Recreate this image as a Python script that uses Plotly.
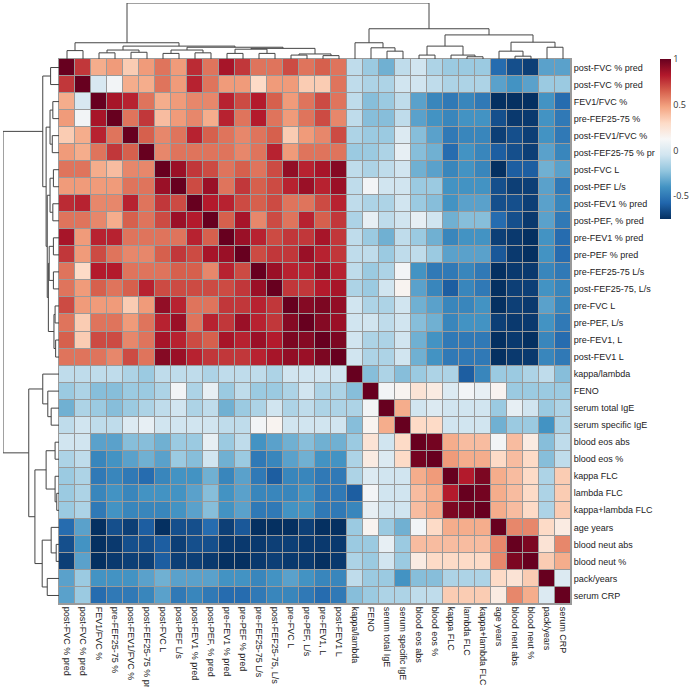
import plotly.graph_objects as go

# Variable names (same order for rows and columns, as clustered)
labels = ["post-FVC % pred", "post-FVC % pred", "FEV1/FVC %", "pre-FEF25-75 %",
          "post-FEV1/FVC %", "post-FEF25-75 % pr", "post-FVC L", "post-PEF L/s",
          "post-FEV1 % pred", "post-PEF, % pred", "pre-FEV1 % pred", "pre-PEF % pred",
          "pre-FEF25-75 L/s", "post-FEF25-75, L/s", "pre-FVC L", "pre-PEF, L/s",
          "pre-FEV1, L", "post-FEV1 L", "kappa/lambda", "FENO", "serum total IgE",
          "serum specific IgE", "blood eos abs", "blood eos %", "kappa FLC",
          "lambda FLC", "kappa+lambda FLC", "age years", "blood neut abs",
          "blood neut %", "pack/years", "serum CRP"]

# Correlation matrix
corr = [
    [1, .75, .45, .5, .35, .5, .6, .5, .78, .6, .85, .75, .6, .6, .7, .6, .65, .6,
     -.1, -.2, -.3, -.1, -.05, -.15, -.2, -.2, -.2, -.55, -.65, -.7, -.35, -.35],
    [.75, 1, -.02, .1, .45, .45, .6, .5, .8, .6, .5, .5, .3, .5, .5, .35, .35, .6,
     -.1, -.15, -.15, -.05, -.05, -.1, -.15, -.15, -.15, -.35, -.4, -.35, -.2, -.2],
    [.45, -.02, 1, .85, .8, .6, .45, .5, .55, .55, .8, .7, .82, .65, .5, .6, .7, .6,
     -.1, -.25, -.2, -.1, -.35, -.45, -.5, -.45, -.5, -.75, -.75, -.75, -.4, -.55],
    [.5, .1, .85, 1, .6, .75, .4, .5, .55, .45, .8, .6, .82, .6, .5, .6, .7, .55,
     -.1, -.25, -.25, -.1, -.35, -.4, -.45, -.4, -.4, -.65, -.72, -.72, -.4, -.5],
    [.35, .45, .8, .6, 1, .65, .55, .6, .8, .65, .6, .55, .6, .65, .35, .5, .55, .7,
     -.15, -.2, -.2, 0, -.25, -.35, -.5, -.45, -.45, -.7, -.65, -.7, -.4, -.5],
    [.5, .45, .6, .75, .65, 1, .55, .6, .6, .6, .6, .55, .6, .8, .5, .6, .6, .6,
     -.2, -.2, -.15, .05, -.25, -.3, -.55, -.4, -.45, -.6, -.65, -.7, -.35, -.45],
    [.6, .6, .45, .4, .55, .55, 1, .88, .75, .7, .6, .65, .6, .7, .9, .8, .85, .93,
     -.1, -.15, -.1, -.05, -.3, -.35, -.45, -.4, -.45, -.75, -.6, -.6, -.3, -.35],
    [.5, .5, .5, .5, .6, .6, .88, 1, .7, .88, .6, .75, .65, .7, .8, .88, .8, .88,
     -.1, .1, -.05, -.05, -.2, -.2, -.4, -.4, -.4, -.65, -.7, -.7, -.35, -.5],
    [.78, .8, .55, .55, .8, .6, .75, .7, 1, .82, .8, .7, .65, .7, .6, .6, .7, .8,
     -.1, -.15, -.15, -.05, -.2, -.25, -.4, -.35, -.35, -.65, -.65, -.7, -.35, -.45],
    [.6, .6, .55, .45, .65, .6, .7, .88, .82, 1, .65, .85, .55, .7, .6, .8, .65, .75,
     -.15, .05, -.1, -.05, .05, -.05, -.3, -.25, -.25, -.55, -.65, -.72, -.35, -.5],
    [.85, .5, .8, .8, .6, .6, .6, .6, .8, .65, 1, .88, .8, .7, .75, .75, .85, .75,
     -.1, -.2, -.3, -.1, -.2, -.3, -.45, -.4, -.4, -.7, -.72, -.75, -.4, -.55],
    [.75, .5, .7, .6, .55, .55, .65, .75, .7, .85, .88, 1, .7, .75, .75, .88, .8, .75,
     -.1, -.1, -.2, -.1, -.1, -.2, -.35, -.35, -.35, -.62, -.72, -.75, -.4, -.55],
    [.6, .3, .82, .82, .6, .6, .6, .65, .65, .55, .8, .7, 1, .88, .8, .8, .88, .8,
     -.1, -.2, -.15, .1, -.4, -.5, -.5, -.45, -.5, -.75, -.72, -.72, -.45, -.5],
    [.6, .5, .65, .6, .65, .8, .7, .7, .7, .7, .7, .75, .88, 1, .75, .75, .82, .85,
     -.15, -.2, -.05, .15, -.35, -.45, -.6, -.45, -.5, -.75, -.7, -.7, -.4, -.45],
    [.7, .5, .5, .5, .35, .5, .9, .8, .6, .6, .75, .75, .8, .75, 1, .93, .95, .9,
     -.05, -.15, -.15, -.05, -.3, -.35, -.45, -.45, -.4, -.75, -.7, -.72, -.35, -.45],
    [.6, .35, .6, .6, .5, .6, .8, .88, .6, .8, .75, .88, .8, .75, .93, 1, .93, .88,
     -.05, -.05, -.1, -.05, -.25, -.3, -.45, -.4, -.4, -.7, -.72, -.72, -.4, -.5],
    [.65, .35, .7, .7, .55, .6, .85, .8, .7, .65, .85, .8, .88, .82, .95, .93, 1, .95,
     -.05, -.15, -.15, -.05, -.3, -.4, -.5, -.5, -.5, -.75, -.72, -.75, -.45, -.55],
    [.6, .6, .6, .55, .7, .6, .93, .88, .8, .75, .75, .75, .8, .85, .9, .88, .95, 1,
     -.05, -.15, -.15, -.05, -.3, -.4, -.5, -.5, -.5, -.75, -.72, -.72, -.45, -.5],
    [-.1, -.1, -.1, -.1, -.15, -.2, -.1, -.1, -.1, -.15, -.1, -.1, -.1, -.15, -.05, -.05, -.05, -.05,
     1, -.25, -.15, -.25, -.2, -.15, -.15, -.6, -.45, -.2, -.2, -.15, -.1, -.25],
    [-.2, -.15, -.25, -.25, -.2, -.2, -.15, .1, -.15, .05, -.2, -.1, -.2, -.2, -.15, -.05, -.15, -.15,
     -.25, 1, .1, .15, .25, .2, 0, .1, .05, .15, -.2, -.2, -.2, -.2],
    [-.3, -.15, -.2, -.25, -.2, -.15, -.1, -.05, -.15, -.1, -.3, -.2, -.15, -.05, -.15, -.1, -.15, -.15,
     -.15, .1, 1, .45, -.05, 0, -.05, -.05, -.05, -.2, .05, -.05, -.2, -.15],
    [-.1, -.05, -.1, -.1, 0, .05, -.05, -.05, -.05, -.05, -.1, -.1, .1, .15, -.05, -.05, -.05, -.05,
     -.25, .15, .45, 1, .3, .3, -.05, -.05, -.05, -.3, -.2, -.2, -.4, -.15],
    [-.05, -.05, -.35, -.35, -.25, -.25, -.3, -.2, -.2, .05, -.2, -.1, -.4, -.35, -.3, -.25, -.3, -.3,
     -.2, .25, -.05, .3, 1, .97, .45, .4, .4, .1, .4, .2, -.25, -.1],
    [-.15, -.1, -.45, -.4, -.35, -.3, -.35, -.2, -.25, -.05, -.3, -.2, -.5, -.45, -.35, -.3, -.4, -.4,
     -.15, .2, 0, .3, .97, 1, .5, .45, .45, .3, .4, .3, -.25, -.1],
    [-.2, -.15, -.5, -.45, -.5, -.55, -.45, -.4, -.4, -.3, -.45, -.35, -.5, -.6, -.45, -.45, -.5, -.5,
     -.15, 0, -.05, -.05, .45, .5, 1, .82, .95, .45, .4, .3, -.15, .35],
    [-.2, -.15, -.45, -.4, -.45, -.4, -.4, -.4, -.35, -.25, -.4, -.35, -.45, -.45, -.45, -.4, -.5, -.5,
     -.6, .1, -.05, -.05, .4, .45, .82, 1, .97, .45, .4, .3, -.15, .35],
    [-.2, -.15, -.5, -.4, -.45, -.45, -.45, -.4, -.35, -.25, -.4, -.35, -.5, -.5, -.4, -.4, -.5, -.5,
     -.45, .05, -.05, -.05, .4, .45, .95, .97, 1, .45, .4, .3, -.15, .35],
    [-.55, -.35, -.75, -.65, -.7, -.6, -.75, -.65, -.65, -.55, -.7, -.62, -.75, -.75, -.75, -.7, -.75, -.75,
     -.2, .15, -.2, -.3, .1, .3, .45, .45, .45, 1, .55, .55, .3, .2],
    [-.65, -.4, -.75, -.72, -.65, -.65, -.6, -.7, -.65, -.65, -.72, -.72, -.72, -.7, -.7, -.72, -.72, -.72,
     -.2, -.2, .05, -.2, .4, .4, .4, .4, .4, .55, 1, .95, .25, .55],
    [-.7, -.35, -.75, -.72, -.7, -.7, -.6, -.7, -.7, -.72, -.75, -.75, -.72, -.7, -.72, -.72, -.75, -.72,
     -.15, -.2, -.05, -.2, .2, .3, .3, .3, .3, .55, .95, 1, .35, .45],
    [-.35, -.2, -.4, -.4, -.4, -.35, -.3, -.35, -.35, -.35, -.4, -.4, -.45, -.4, -.35, -.4, -.45, -.45,
     -.1, -.2, -.2, -.4, -.25, -.25, -.15, -.15, -.15, .3, .25, .35, 1, 0],
    [-.35, -.2, -.55, -.5, -.5, -.45, -.35, -.5, -.45, -.5, -.55, -.55, -.5, -.45, -.45, -.5, -.55, -.5,
     -.25, -.2, -.15, -.15, -.1, -.1, .35, .35, .35, .2, .55, .45, 0, 1],
]

# Hierarchical clustering merges: (child a, child b, height); new cluster ids start at 32
merges = [
    (0, 1, .15), (2, 3, .11), (4, 5, .12), (33, 34, .16),
    (6, 7, .10), (8, 9, .11), (36, 37, .16), (10, 11, .10),
    (12, 13, .10), (39, 40, .175), (14, 15, .07), (16, 17, .06),
    (42, 43, .09), (41, 44, .19), (38, 45, .21), (35, 46, .23),
    (32, 47, .29), (20, 21, .14), (19, 49, .20), (18, 50, .29),
    (25, 26, .04), (24, 52, .07), (22, 23, .07), (54, 53, .23),
    (28, 29, .05), (27, 56, .14), (30, 31, .21), (57, 58, .30),
    (55, 59, .43), (51, 60, .54), (48, 61, 1.0),
]

n = len(labels)
pos = {i: float(i) for i in range(n)}
hgt = {i: 0.0 for i in range(n)}
seg_p, seg_h = [], []
for k, (a, b, h) in enumerate(merges):
    cid = n + k
    pos[cid] = (pos[a] + pos[b]) / 2
    hgt[cid] = h
    seg_p += [pos[a], pos[a], pos[b], pos[b], None]
    seg_h += [hgt[a], h, h, hgt[b], None]

rdbu = ['#053061', '#2166ac', '#4393c3', '#92c5de', '#d1e5f0', '#f7f7f7',
        '#fddbc7', '#f4a582', '#d6604d', '#b2182b', '#67001f']
cscale = [[i / 10, c] for i, c in enumerate(rdbu)]

W, H = 692, 687
hx0, hx1, hy0, hy1 = 59, 571, 59, 604
grid = '#9a9a9a'

fig = go.Figure()

fig.add_trace(go.Heatmap(
    z=corr, x=list(range(n)), y=list(range(n)),
    colorscale=cscale, zmin=-0.75, zmax=1.0,
    xgap=1, ygap=1,
    colorbar=dict(
        x=660 / W, xanchor='left', y=1 - 59 / H, yanchor='top',
        len=160 / H, thickness=11, outlinewidth=0, xpad=0, ypad=0,
        tickvals=[-0.5, 0, 0.5, 1], ticktext=['-0.5', '0', '0.5', '1'],
        ticks='', tickfont=dict(size=9, color='#333'),
    ),
))

# Column dendrogram
fig.add_trace(go.Scatter(x=seg_p, y=seg_h, mode='lines',
                         line=dict(color='#444', width=1),
                         xaxis='x2', yaxis='y2', hoverinfo='skip', showlegend=False))
# Row dendrogram
fig.add_trace(go.Scatter(x=seg_h, y=seg_p, mode='lines',
                         line=dict(color='#444', width=1),
                         xaxis='x3', yaxis='y3', hoverinfo='skip', showlegend=False))

# grey cell borders show through the heatmap gaps
fig.add_shape(type='rect', xref='x', yref='y', x0=-0.5, x1=n - 0.5, y0=-0.5, y1=n - 0.5,
              fillcolor=grid, line=dict(width=0), layer='below')

lab_font = dict(family='Liberation Sans, Arial, sans-serif', size=9, color='#222')

fig.update_layout(
    width=W, height=H,
    margin=dict(l=0, r=0, t=0, b=0),
    paper_bgcolor='white',
    plot_bgcolor='white',
    template='none',
    showlegend=False,
    xaxis=dict(domain=[hx0 / W, hx1 / W], range=[-0.5, n - 0.5],
               tickvals=list(range(n)), ticktext=labels, tickangle=90,
               tickfont=lab_font, ticks='', showgrid=False, zeroline=False,
               showline=True, mirror=True, linecolor=grid, linewidth=1,
               automargin=False),
    yaxis=dict(domain=[1 - hy1 / H, 1 - hy0 / H], range=[n - 0.5, -0.5],
               tickvals=list(range(n)), ticktext=labels, side='right',
               tickfont=lab_font, ticks='', showgrid=False, zeroline=False,
               showline=True, mirror=True, linecolor=grid, linewidth=1,
               automargin=False),
    xaxis2=dict(domain=[hx0 / W, hx1 / W], range=[-0.5, n - 0.5], visible=False,
                anchor='y2'),
    yaxis2=dict(domain=[1 - hy0 / H, 1 - 3 / H], range=[0, 1.0], visible=False,
                anchor='x2'),
    xaxis3=dict(domain=[3 / W, hx0 / W], range=[1.0, 0], visible=False,
                anchor='y3'),
    yaxis3=dict(domain=[1 - hy1 / H, 1 - hy0 / H], range=[n - 0.5, -0.5],
                visible=False, anchor='x3'),
)

fig.write_html("out.html", config={'displayModeBar': False},
               post_script="document.body.style.margin='0';")
